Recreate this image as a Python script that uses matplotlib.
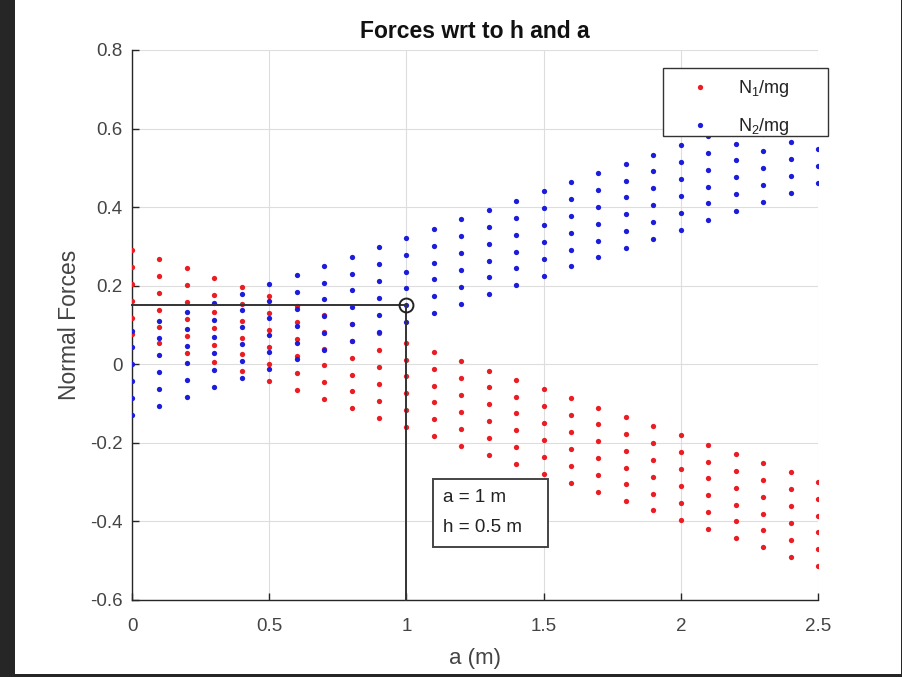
import matplotlib
matplotlib.use("Agg")
import matplotlib.pyplot as plt
from matplotlib.patches import Rectangle

plt.rcParams['font.family'] = ['Liberation Sans', 'DejaVu Sans']
plt.rcParams['mathtext.default'] = 'regular'

# a values (m)
a_vals = [0.0, 0.1, 0.2, 0.3, 0.4, 0.5, 0.6, 0.7, 0.8, 0.9, 1.0, 1.1, 1.2,
          1.3, 1.4, 1.5, 1.6, 1.7, 1.8, 1.9, 2.0, 2.1, 2.2, 2.3, 2.4, 2.5]

# N1/mg, one row per h value
n1_h1 = [0.291, 0.267, 0.244, 0.220, 0.197, 0.173, 0.149, 0.126, 0.102, 0.079, 0.055, 0.031, 0.008,
         -0.016, -0.039, -0.063, -0.087, -0.110, -0.134, -0.157, -0.181, -0.205, -0.228, -0.252, -0.275, -0.299]
n1_h2 = [0.248, 0.225, 0.201, 0.177, 0.154, 0.130, 0.107, 0.083, 0.059, 0.036, 0.012, -0.012, -0.035,
         -0.059, -0.082, -0.106, -0.130, -0.153, -0.177, -0.200, -0.224, -0.248, -0.271, -0.295, -0.318, -0.342]
n1_h3 = [0.205, 0.182, 0.158, 0.134, 0.111, 0.087, 0.064, 0.040, 0.016, -0.007, -0.031, -0.054, -0.078,
         -0.102, -0.125, -0.149, -0.172, -0.196, -0.220, -0.243, -0.267, -0.290, -0.314, -0.338, -0.361, -0.385]
n1_h4 = [0.162, 0.139, 0.115, 0.092, 0.068, 0.044, 0.021, -0.003, -0.027, -0.050, -0.074, -0.097, -0.121,
         -0.145, -0.168, -0.192, -0.215, -0.239, -0.263, -0.286, -0.310, -0.333, -0.357, -0.381, -0.404, -0.428]
n1_h5 = [0.119, 0.096, 0.072, 0.049, 0.025, 0.001, -0.022, -0.046, -0.069, -0.093, -0.117, -0.140, -0.164,
         -0.187, -0.211, -0.235, -0.258, -0.282, -0.305, -0.329, -0.353, -0.376, -0.400, -0.423, -0.447, -0.471]
n1_h6 = [0.076, 0.053, 0.029, 0.006, -0.018, -0.042, -0.065, -0.089, -0.112, -0.136, -0.160, -0.183, -0.207,
         -0.230, -0.254, -0.278, -0.301, -0.325, -0.348, -0.372, -0.396, -0.419, -0.443, -0.466, -0.490, -0.514]

# N2/mg, one row per h value
n2_h1 = [-0.129, -0.105, -0.082, -0.058, -0.035, -0.011, 0.013, 0.036, 0.060, 0.083, 0.107, 0.131, 0.154,
         0.178, 0.201, 0.225, 0.249, 0.272, 0.296, 0.319, 0.343, 0.367, 0.390, 0.414, 0.437, 0.461]
n2_h2 = [-0.086, -0.063, -0.039, -0.015, 0.008, 0.032, 0.055, 0.079, 0.103, 0.126, 0.150, 0.174, 0.197,
         0.221, 0.244, 0.268, 0.292, 0.315, 0.339, 0.362, 0.386, 0.410, 0.433, 0.457, 0.480, 0.504]
n2_h3 = [-0.043, -0.020, 0.004, 0.028, 0.051, 0.075, 0.098, 0.122, 0.146, 0.169, 0.193, 0.216, 0.240,
         0.264, 0.287, 0.311, 0.334, 0.358, 0.382, 0.405, 0.429, 0.452, 0.476, 0.500, 0.523, 0.547]
n2_h4 = [0.000, 0.023, 0.047, 0.070, 0.094, 0.118, 0.141, 0.165, 0.189, 0.212, 0.236, 0.259, 0.283,
         0.307, 0.330, 0.354, 0.377, 0.401, 0.425, 0.448, 0.472, 0.495, 0.519, 0.543, 0.566, 0.590]
n2_h5 = [0.043, 0.066, 0.090, 0.113, 0.137, 0.161, 0.184, 0.208, 0.231, 0.255, 0.279, 0.302, 0.326,
         0.349, 0.373, 0.397, 0.420, 0.444, 0.467, 0.491, 0.515, 0.538, 0.562, 0.585, 0.609, 0.633]
n2_h6 = [0.086, 0.109, 0.133, 0.156, 0.180, 0.204, 0.227, 0.251, 0.274, 0.298, 0.322, 0.345, 0.369,
         0.392, 0.416, 0.440, 0.463, 0.487, 0.510, 0.534, 0.558, 0.581, 0.605, 0.628, 0.652, 0.676]

n1_rows = [n1_h1, n1_h2, n1_h3, n1_h4, n1_h5, n1_h6]
n2_rows = [n2_h1, n2_h2, n2_h3, n2_h4, n2_h5, n2_h6]

# highlighted point
sel_a = 1.0
sel_n2 = 0.150
annot_lines = ["a = 1 m", "h = 0.5 m"]

x_ticks = [0, 0.5, 1, 1.5, 2, 2.5]
x_ticklabels = ["0", "0.5", "1", "1.5", "2", "2.5"]
y_ticks = [-0.6, -0.4, -0.2, 0, 0.2, 0.4, 0.6, 0.8]
y_ticklabels = ["-0.6", "-0.4", "-0.2", "0", "0.2", "0.4", "0.6", "0.8"]

W, H = 903, 677


def fx(px):
    return px / W


def fy(py):
    return 1 - py / H


fig = plt.figure(figsize=(W / 100, H / 100), dpi=100)
fig.patch.set_facecolor("white")
ax = fig.add_axes([fx(132), fy(600), (818 - 132) / W, (600 - 50) / H])

red = "#ec1c24"
blue = "#1c1cdc"
for i in range(len(n1_rows)):
    ax.plot(a_vals, n1_rows[i], linestyle="none", marker="o", markersize=3.8,
            markeredgewidth=0, color=red, label="N$_1$/mg" if i == 0 else None, zorder=3)
for i in range(len(n2_rows)):
    ax.plot(a_vals, n2_rows[i], linestyle="none", marker="o", markersize=3.8,
            markeredgewidth=0, color=blue, label="N$_2$/mg" if i == 0 else None, zorder=3)

# guide lines
ax.plot([0, sel_a], [sel_n2, sel_n2], color="#333333", linewidth=1.4, zorder=4, clip_on=False)
ax.plot([sel_a, sel_a], [sel_n2, -0.6], color="#333333", linewidth=1.4, zorder=4, clip_on=False)
ax.plot([sel_a], [sel_n2], linestyle="none", marker="o", markersize=10, markerfacecolor="none",
        markeredgecolor="#222222", markeredgewidth=1.4, zorder=5)

# annotation box
ax.add_patch(Rectangle((fx(433), fy(547)), (548 - 433) / W, (547 - 479) / H, transform=fig.transFigure,
                       facecolor="white", edgecolor="#444444", linewidth=1.4, zorder=6, clip_on=False))
ax.text(fx(443), fy(497), annot_lines[0], transform=fig.transFigure, fontsize=13.5, ha="left",
        va="center", color="#222222", zorder=7)
ax.text(fx(443), fy(527), annot_lines[1], transform=fig.transFigure, fontsize=13.5, ha="left",
        va="center", color="#222222", zorder=7)

ax.set_xlim(0, 2.5)
ax.set_ylim(-0.6, 0.8)
ax.set_xticks(x_ticks)
ax.set_xticklabels(x_ticklabels)
ax.set_yticks(y_ticks)
ax.set_yticklabels(y_ticklabels)
ax.grid(True, color="#dddddd", linewidth=0.8, zorder=0)
ax.set_axisbelow(True)
for s in ["top", "right"]:
    ax.spines[s].set_visible(False)
for s in ["left", "bottom"]:
    ax.spines[s].set_color("#262626")
    ax.spines[s].set_linewidth(1.0)
ax.tick_params(direction="in", length=5, width=1.0, color="#262626", labelsize=13.5,
               labelcolor="#444444")
ax.tick_params(axis="x", pad=13)
ax.tick_params(axis="y", pad=7)

ax.set_title("Forces wrt to h and a", fontsize=16.5, fontweight="bold", color="#111111", pad=9)
ax.set_xlabel("a (m)", fontsize=16, color="#444444", labelpad=9)
ax.set_ylabel("Normal Forces", fontsize=16.5, color="#444444", labelpad=6)

# legend with manual frame
leg = ax.legend(loc="upper left", bbox_to_anchor=(fx(663), fy(68)), bbox_transform=fig.transFigure,
                borderaxespad=0, frameon=False, fontsize=13,
                handletextpad=0.6, handlelength=3.0, borderpad=0.55, labelspacing=0.95,
                markerscale=1.0)
leg.set_zorder(10)
for t in leg.get_texts():
    t.set_color("#222222")
ax.add_patch(Rectangle((fx(663), fy(136)), (828 - 663) / W, (136 - 68) / H, transform=fig.transFigure,
                       facecolor="white", edgecolor="#333333", linewidth=1.0, zorder=9, clip_on=False))

# dark screenshot frame
for rect in [(0, 0, 15 / W, 1), (901 / W, 0, 2 / W, 1), (0, 0, 1, 3 / H)]:
    fig.patches.append(Rectangle((rect[0], rect[1]), rect[2], rect[3], transform=fig.transFigure,
                                 facecolor="#262626", edgecolor="none", zorder=10))

fig.savefig("out.png", dpi=100)
